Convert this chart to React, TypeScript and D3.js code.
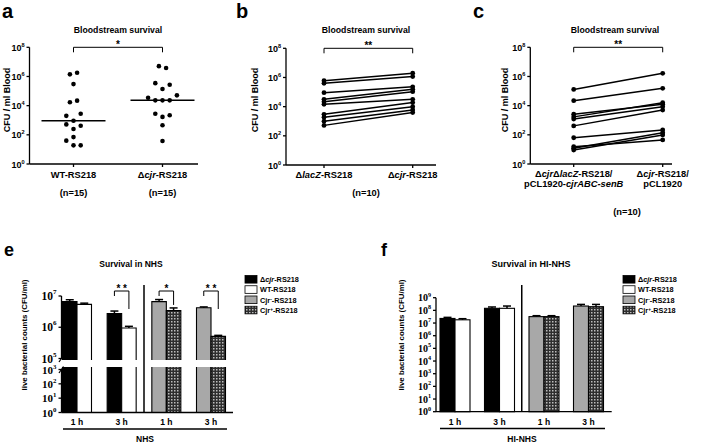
import React from "react";
import * as d3 from "d3";

const W = 709, H = 444;
const SANS = "'Liberation Sans', Arial, sans-serif";
const SERIF = "'Liberation Serif', 'Times New Roman', serif";

// ---------- DATA ----------
type Seg = [string, string]; // [text, style] style: "" | "i" | "sup"

// Panel a
const catsA: Seg[][] = [[["WT-RS218", ""]], [["Δ", ""], ["cjr", "i"], ["-RS218", ""]]];
const nA = ["(n=15)", "(n=15)"];
const wtA = [1.4e6, 1.8e6, 3.0e5, 1.7e4, 2.2e4, 2.0e3, 2.8e3, 930, 520, 420, 250, 70, 40, 19, 19];
const wtSlotA = [-1, 1, 0, -1, 1, -2, 2, 0, -2, 2, 0, 0, -2, 0, 2];
const cjrA = [5.1e6, 3.8e6, 3.5e5, 2.7e5, 1.4e5, 3.5e4, 2.3e4, 2.3e4, 2.3e4, 5.1e4, 2.8e3, 1.7e3, 2.2e3, 450, 38];
const cjrSlotA = [-1, 1, -2, 2, 0, -4, -2, 0, 2, 4, -2, 0, 2, 0, 0];

// Panel b
const catsB: Seg[][] = [[["Δ", ""], ["lacZ", "i"], ["-RS218", ""]], [["Δ", ""], ["cjr", "i"], ["-RS218", ""]]];
const lacZB = [6.0e5, 4.0e5, 9.1e4, 3.2e4, 2.2e4, 1.45e4, 3.0e3, 1.9e3, 1.0e3, 520];
const cjrB = [1.95e6, 1.15e6, 2.3e5, 1.55e5, 1.07e5, 3.2e4, 1.9e4, 1.0e4, 5.9e3, 3.9e3];

// Panel c
const catsC: Seg[][][] = [
  [[["Δ", ""], ["cjr", "i"], ["Δ", ""], ["lacZ", "i"], ["-RS218/", ""]], [["pCL1920-", ""], ["cjrABC-senB", "i"]]],
  [[["Δ", ""], ["cjr", "i"], ["-RS218/", ""]], [["pCL1920", ""]]],
];
const compC = [1.3e5, 2.2e4, 2.6e3, 1.7e3, 1.2e3, 410, 63, 15.5, 12, 9.1];
const vecC = [1.65e6, 1.55e5, 1.25e4, 1.6e4, 8.5e3, 5.0e3, 215, 45, 140, 98];

const abcTicks = [1, 1e2, 1e4, 1e6, 1e8];

// Panels e / f
const strainLabels: Seg[][] = [
  [["Δ", ""], ["cjr", "i"], ["-RS218", ""]],
  [["WT-RS218", ""]],
  [["Cjr", ""], ["-", "sup"], ["-RS218", ""]],
  [["Cjr", ""], ["+", "sup"], ["-RS218", ""]],
];
const groupKeys = ["g1", "g2", "g3", "g4"];
const groupLabels = ["1 h", "3 h", "1 h", "3 h"];
const groupStrains = [[0, 1], [0, 1], [2, 3], [2, 3]];
const groupTime = [0, 1, 0, 1];

const nhs1h = [6.6e6, 5.4e6, 6.6e6, 3.4e6];
const nhs1hSem = [1.0e6, 0.5e6, 1.1e6, 0.75e6];
const nhs3h = [2.75e6, 9.5e5, 4.2e6, 5.1e5];
const nhs3hSem = [0.55e6, 1.2e5, 0.27e6, 0.4e5];
const nhsSig = [{ g: 1, label: "* *" }, { g: 2, label: "*" }, { g: 3, label: "* *" }];

const hi1h = [2.3e7, 1.8e7, 3.2e7, 3.2e7];
const hi1hSem = [0.5e7, 0.4e7, 0.6e7, 0.6e7];
const hi3h = [1.45e8, 1.45e8, 2.2e8, 1.95e8];
const hi3hSem = [0.4e8, 0.75e8, 0.75e8, 1.0e8];

const eUpperTicks = [1e5, 1e6, 1e7];
const eLowerTicks = [1, 10, 100, 1000];
const fTicks = [1, 10, 1e2, 1e3, 1e4, 1e5, 1e6, 1e7, 1e8, 1e9];

const fills = ["#000", "#fff", "#a8a8a8", "url(#chk)"];

// ---------- HELPERS ----------
function Rich({ x, y, segs, size, anchor = "middle", family = SANS }: any) {
  return (
    <text x={x} y={y} textAnchor={anchor} fontFamily={family} fontWeight="bold" fontSize={size}>
      {segs.map(([t, st]: Seg, i: number) =>
        st === "sup" ? (
          <tspan key={i} baselineShift="super" fontSize={size * 0.65}>{t}</tspan>
        ) : (
          <tspan key={i} fontStyle={st === "i" ? "italic" : "normal"}>{t}</tspan>
        )
      )}
    </text>
  );
}

function Pow({ x, y, v, size, family }: any) {
  const e = Math.round(Math.log10(v));
  return (
    <text x={x} y={y} textAnchor="end" fontFamily={family} fontWeight="bold" fontSize={size} dominantBaseline="central">
      10<tspan baselineShift="super" fontSize={size * 0.62}>{e}</tspan>
    </text>
  );
}

function PanelLetter({ x, y, t, size }: any) {
  return <text x={x} y={y} fontFamily={SANS} fontWeight="bold" fontSize={size}>{t}</text>;
}

function YLabel({ x, y, t, size }: any) {
  return (
    <text x={x} y={y} transform={`rotate(-90 ${x} ${y})`} textAnchor="middle" dominantBaseline="central"
      fontFamily={SANS} fontWeight="bold" fontSize={size}>{t}</text>
  );
}

function ABCAxes({ lay, y, x }: any) {
  return (
    <g stroke="#000" strokeWidth={1.3}>
      <line x1={lay.axisX} x2={lay.axisX} y1={y(1e8)} y2={y(1)} />
      <line x1={lay.axisX} x2={lay.xEnd} y1={y(1)} y2={y(1)} />
      {abcTicks.map((t) => (
        <g key={t}>
          <line x1={lay.axisX - 3} x2={lay.axisX} y1={y(t)} y2={y(t)} />
          <g stroke="none"><Pow x={lay.axisX - 5} y={y(t) + 0.5} v={t} size={9} family={SANS} /></g>
        </g>
      ))}
      {["0", "1"].map((k) => (
        <line key={k} x1={x(k)} x2={x(k)} y1={y(1)} y2={y(1) + 3} />
      ))}
    </g>
  );
}

function Bracket({ x1, x2, top, l1, l2, label, size = 10 }: any) {
  return (
    <g>
      <path d={`M${x1},${top + l1}V${top}H${x2}V${top + l2}`} fill="none" stroke="#000" strokeWidth={1} />
      <text x={(x1 + x2) / 2} y={top + 1} textAnchor="middle" fontFamily={SANS} fontWeight="bold" fontSize={size}>{label}</text>
    </g>
  );
}

// ---------- PANELS ----------
function PanelA() {
  const lay = { axisX: 29.5, xEnd: 198 };
  const y = d3.scaleLog().domain([1, 1e8]).range([164, 47.3]);
  const x = d3.scalePoint<string>().domain(["0", "1"]).range([73.5, 162.5]);
  const sets = [wtA, cjrA];
  const slots = [wtSlotA, cjrSlotA];
  return (
    <g>
      <PanelLetter x={2} y={18} t="a" size={20} />
      <text x={118} y={33} textAnchor="middle" fontFamily={SANS} fontWeight="bold" fontSize={8.7}>Bloodstream survival</text>
      <YLabel x={7} y={100} t="CFU / ml Blood" size={9} />
      <ABCAxes lay={lay} y={y} x={x} />
      {sets.map((s, k) => {
        const cx = x(String(k))!;
        const med = d3.median(s)!;
        return (
          <g key={k}>
            {s.map((v, i) => <circle key={i} cx={cx + slots[k][i] * 3.6} cy={y(v)} r={2.3} fill="#000" />)}
            <line x1={cx - 32} x2={cx + 32} y1={y(med)} y2={y(med)} stroke="#000" strokeWidth={1.5} />
            <Rich x={cx} y={178} segs={catsA[k]} size={9.3} />
            <text x={cx} y={196} textAnchor="middle" fontFamily={SANS} fontWeight="bold" fontSize={9.3}>{nA[k]}</text>
          </g>
        );
      })}
      <Bracket x1={x("0")} x2={x("1")} top={y(1e8)} l1={5} l2={5} label="*" />
    </g>
  );
}

function PairPanel({ letterX, letter, lay, left, right, yTop, yBot, titleX, ylabX, children }: any) {
  const y = d3.scaleLog().domain([1, 1e8]).range([yBot, yTop]);
  const x = d3.scalePoint<string>().domain(["0", "1"]).range([lay.c1, lay.c2]);
  return (
    <g>
      <PanelLetter x={letterX} y={18} t={letter} size={20} />
      <text x={titleX} y={33} textAnchor="middle" fontFamily={SANS} fontWeight="bold" fontSize={8.7}>Bloodstream survival</text>
      <YLabel x={ylabX} y={100} t="CFU / ml Blood" size={9} />
      <ABCAxes lay={lay} y={y} x={x} />
      {left.map((v: number, i: number) => (
        <g key={i}>
          <line x1={x("0")} x2={x("1")} y1={y(v)} y2={y(right[i])} stroke="#000" strokeWidth={1.5} />
          <circle cx={x("0")} cy={y(v)} r={2.4} fill="#000" />
          <circle cx={x("1")} cy={y(right[i])} r={2.4} fill="#000" />
        </g>
      ))}
      <Bracket x1={x("0")} x2={x("1")} top={y(1e8)} l1={5} l2={5} label="**" />
      {children(x)}
    </g>
  );
}

function Legend({ x, y0 }: any) {
  return (
    <g>
      {strainLabels.map((segs, i) => (
        <g key={i}>
          <rect x={x} y={y0 + i * 10.25 - 3.8} width={12} height={7.6} fill={fills[i]} stroke="#000" strokeWidth={0.8} />
          <Rich x={x + 15} y={y0 + i * 10.25 + 2.7} segs={segs} size={7.3} anchor="start" />
        </g>
      ))}
    </g>
  );
}

function PanelE() {
  const axisX = 61.5, xEnd = 233;
  const yUp = d3.scaleLog().domain([1e5, 1e7]).range([358.5, 296]);
  const yLow = d3.scaleLog().domain([1, 1e3]).range([412.5, 369.5]);
  const x = d3.scalePoint<string>().domain(groupKeys).range([77, 211]);
  const bw = 14.5;
  const cutUp = yUp(1e5) + 1.5;
  const cutLow = yLow(1e3) - 2.5;
  const base = yLow(1);
  const val = (g: number, s: number) => (groupTime[g] === 0 ? nhs1h[s] : nhs3h[s]);
  const sem = (g: number, s: number) => (groupTime[g] === 0 ? nhs1hSem[s] : nhs3hSem[s]);
  return (
    <g>
      <PanelLetter x={4} y={256} t="e" size={18} />
      <text x={131} y={267} textAnchor="middle" fontFamily={SANS} fontWeight="bold" fontSize={8.5}>Survival in NHS</text>
      <YLabel x={24.5} y={335} t="live bacterial counts (CFU/ml)" size={7.9} />
      {groupKeys.map((k, g) =>
        groupStrains[g].map((s, j) => {
          const x0 = x(k)! - bw + j * bw;
          const top = yUp(val(g, s));
          const et = yUp(val(g, s) + sem(g, s));
          const cx = x0 + bw / 2;
          return (
            <g key={k + j}>
              <rect x={x0} y={top} width={bw} height={cutUp - top} fill={fills[s]} />
              <path d={`M${x0},${cutUp}V${top}H${x0 + bw}V${cutUp}`} fill="none" stroke="#000" strokeWidth={1.1} />
              <rect x={x0} y={cutLow} width={bw} height={base - cutLow} fill={fills[s]} />
              <path d={`M${x0},${cutLow}V${base}H${x0 + bw}V${cutLow}`} fill="none" stroke="#000" strokeWidth={1.1} />
              <line x1={cx} x2={cx} y1={top} y2={et} stroke="#000" strokeWidth={1.5} />
              <line x1={cx - 4} x2={cx + 4} y1={et} y2={et} stroke="#000" strokeWidth={1.5} />
            </g>
          );
        })
      )}
      <g stroke="#000" strokeWidth={1.3}>
        <line x1={axisX} x2={axisX} y1={yUp(1e7)} y2={yUp(1e5)} />
        <line x1={axisX} x2={axisX} y1={yLow(1e3)} y2={yLow(1)} />
        <line x1={axisX} x2={xEnd} y1={base} y2={base} />
        <line x1={axisX - 2.5} x2={axisX + 2} y1={yUp(1e5) + 3.5} y2={yUp(1e5) - 3} />
        <line x1={axisX - 2.5} x2={axisX + 2} y1={yLow(1e3) + 3.5} y2={yLow(1e3) - 3} />
        {eUpperTicks.map((t) => <line key={"u" + t} x1={axisX - 3} x2={axisX} y1={yUp(t)} y2={yUp(t)} />)}
        {eLowerTicks.map((t) => <line key={"l" + t} x1={axisX - 3} x2={axisX} y1={yLow(t)} y2={yLow(t)} />)}
        <line x1={(x("g2")! + x("g3")!) / 2} x2={(x("g2")! + x("g3")!) / 2} y1={285} y2={base} strokeWidth={1.5} />
        <line x1={63} x2={227} y1={429} y2={429} />
      </g>
      {eUpperTicks.map((t) => <Pow key={"U" + t} x={axisX - 5} y={yUp(t)} v={t} size={11.5} family={SERIF} />)}
      {eLowerTicks.map((t) => <Pow key={"L" + t} x={axisX - 5} y={yLow(t)} v={t} size={11} family={SERIF} />)}
      {groupKeys.map((k, g) => (
        <text key={k} x={x(k)} y={425} textAnchor="middle" fontFamily={SANS} fontWeight="bold" fontSize={8.5}>{groupLabels[g]}</text>
      ))}
      <text x={145} y={442} textAnchor="middle" fontFamily={SANS} fontWeight="bold" fontSize={8.5}>NHS</text>
      {nhsSig.map(({ g, label }) => {
        const k = groupKeys[g];
        const s1 = groupStrains[g][1];
        const x1 = x(k)! - bw / 2, x2 = x(k)! + bw / 2;
        const top = 291;
        const rightErr = yUp(val(g, s1) + sem(g, s1));
        const l2 = Math.min(18, rightErr - 3 - top);
        return <Bracket key={g} x1={x1} x2={x2} top={top} l1={5} l2={l2} label={label} size={10} />;
      })}
      <Legend x={245} y0={279.3} />
    </g>
  );
}

function PanelF() {
  const axisX = 436, xEnd = 611.7;
  const y = d3.scaleLog().domain([1, 1e9]).range([411.7, 297.7]);
  const x = d3.scalePoint<string>().domain(groupKeys).range([455, 588.5]);
  const bw = 15;
  const base = y(1);
  const val = (g: number, s: number) => (groupTime[g] === 0 ? hi1h[s] : hi3h[s]);
  const sem = (g: number, s: number) => (groupTime[g] === 0 ? hi1hSem[s] : hi3hSem[s]);
  return (
    <g>
      <PanelLetter x={381} y={256} t="f" size={18} />
      <text x={531} y={267} textAnchor="middle" fontFamily={SANS} fontWeight="bold" fontSize={9}>Survival in HI-NHS</text>
      <YLabel x={401} y={335} t="live bacterial counts (CFU/ml)" size={7.9} />
      {groupKeys.map((k, g) =>
        groupStrains[g].map((s, j) => {
          const x0 = x(k)! - bw + j * bw;
          const top = y(val(g, s));
          const et = y(val(g, s) + sem(g, s));
          const cx = x0 + bw / 2;
          return (
            <g key={k + j}>
              <rect x={x0} y={top} width={bw} height={base - top} fill={fills[s]} stroke="#000" strokeWidth={1.1} />
              <line x1={cx} x2={cx} y1={top} y2={et} stroke="#000" strokeWidth={1.5} />
              <line x1={cx - 4} x2={cx + 4} y1={et} y2={et} stroke="#000" strokeWidth={1.5} />
            </g>
          );
        })
      )}
      <g stroke="#000" strokeWidth={1.3}>
        <line x1={axisX} x2={axisX} y1={y(1e9)} y2={base} />
        <line x1={axisX} x2={xEnd} y1={base} y2={base} />
        {fTicks.map((t) => <line key={t} x1={axisX - 3} x2={axisX} y1={y(t)} y2={y(t)} />)}
        <line x1={(x("g2")! + x("g3")!) / 2} x2={(x("g2")! + x("g3")!) / 2} y1={285} y2={base} strokeWidth={1.5} />
        <line x1={440} x2={605} y1={428.5} y2={428.5} />
      </g>
      {fTicks.map((t) => <Pow key={"T" + t} x={axisX - 5} y={y(t)} v={t} size={10} family={SERIF} />)}
      {groupKeys.map((k, g) => (
        <text key={k} x={x(k)} y={425} textAnchor="middle" fontFamily={SANS} fontWeight="bold" fontSize={8.5}>{groupLabels[g]}</text>
      ))}
      <text x={522} y={442} textAnchor="middle" fontFamily={SANS} fontWeight="bold" fontSize={8.5}>HI-NHS</text>
      <Legend x={623} y0={279.3} />
    </g>
  );
}

export default function App() {
  return (
    <svg width={W} height={H} style={{ position: "absolute", left: 0, top: 0 }} fontFamily={SANS}>
      <defs>
        <pattern id="chk" width={3} height={3} patternUnits="userSpaceOnUse">
          <rect width={3} height={3} fill="#2e2e2e" />
          <rect width={1.5} height={1.5} fill="#bdbdbd" />
        </pattern>
      </defs>
      <rect width={W} height={H} fill="#fff" />
      <PanelA />
      <PairPanel letterX={236} letter="b" lay={{ axisX: 286, xEnd: 436, c1: 324, c2: 412.7 }} left={lacZB} right={cjrB}
        yTop={48.3} yBot={165} titleX={366} ylabX={255}>
        {(x: any) => (
          <g>
            {catsB.map((segs, k) => <Rich key={k} x={x(String(k))} y={178} segs={segs} size={9.3} />)}
            <text x={366} y={196} textAnchor="middle" fontFamily={SANS} fontWeight="bold" fontSize={9.3}>(n=10)</text>
          </g>
        )}
      </PairPanel>
      <PairPanel letterX={473} letter="c" lay={{ axisX: 530.3, xEnd: 672, c1: 573.7, c2: 662.7 }} left={compC} right={vecC}
        yTop={47.3} yBot={164} titleX={615} ylabX={504.5}>
        {(x: any) => (
          <g>
            {catsC.map((lines, k) => (
              <g key={k}>
                <Rich x={x(String(k))} y={176.5} segs={lines[0]} size={9.3} />
                <Rich x={x(String(k))} y={186.5} segs={lines[1]} size={9.3} />
              </g>
            ))}
            <text x={627} y={215} textAnchor="middle" fontFamily={SANS} fontWeight="bold" fontSize={9.3}>(n=10)</text>
          </g>
        )}
      </PairPanel>
      <PanelE />
      <PanelF />
    </svg>
  );
}
